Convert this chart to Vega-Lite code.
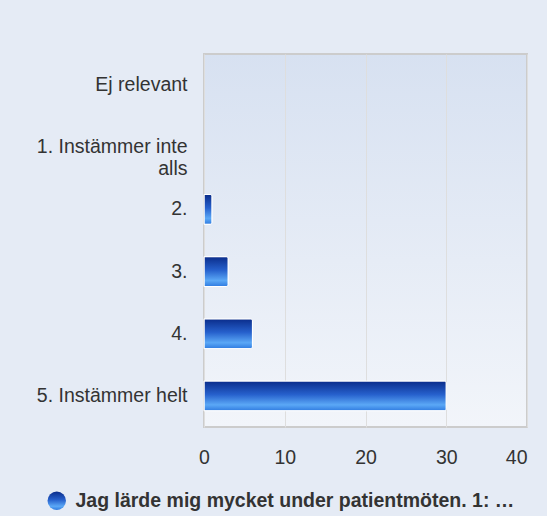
{
  "$schema": "https://vega.github.io/schema/vega-lite/v6.json",
  "width": 323,
  "height": 373,
  "autosize": {"type": "none"},
  "padding": {"left": 204, "top": 54, "right": 20, "bottom": 89},
  "background": "#e5ebf5",
  "config": {
    "font": "Liberation Sans",
    "view": {
      "fill": {"gradient": "linear", "x1": 0, "y1": 0, "x2": 0, "y2": 1, "stops": [{"offset": 0, "color": "#d7e1f1"}, {"offset": 1, "color": "#f2f5fa"}]},
      "stroke": "#cccccc",
      "strokeWidth": 2
    }
  },
  "data": {
    "values": [
      {"kategori": "Ej relevant", "antal": 0, "serie": "Jag lärde mig mycket under patientmöten. 1: …"},
      {"kategori": "1. Instämmer inte alls", "antal": 0, "serie": "Jag lärde mig mycket under patientmöten. 1: …"},
      {"kategori": "2.", "antal": 1, "serie": "Jag lärde mig mycket under patientmöten. 1: …"},
      {"kategori": "3.", "antal": 3, "serie": "Jag lärde mig mycket under patientmöten. 1: …"},
      {"kategori": "4.", "antal": 6, "serie": "Jag lärde mig mycket under patientmöten. 1: …"},
      {"kategori": "5. Instämmer helt", "antal": 30, "serie": "Jag lärde mig mycket under patientmöten. 1: …"}
    ]
  },
  "transform": [{"filter": "datum.antal > 0"}],
  "mark": {
    "type": "bar",
    "stroke": "white",
    "strokeWidth": 1,
    "cornerRadiusEnd": 2,
    "fill": {"gradient": "linear", "x1": 0, "y1": 0, "x2": 0, "y2": 1, "stops": [{"offset": 0, "color": "#0a2c8a"}, {"offset": 0.45, "color": "#2660cc"}, {"offset": 0.8, "color": "#5ba8f6"}, {"offset": 1, "color": "#2f7be0"}]}
  },
  "encoding": {
    "y": {
      "field": "kategori",
      "type": "nominal",
      "sort": null,
      "scale": {
        "domain": ["Ej relevant", "1. Instämmer inte alls", "2.", "3.", "4.", "5. Instämmer helt"],
        "paddingInner": 0.52,
        "paddingOuter": 0.26
      },
      "axis": {
        "title": null,
        "domain": false,
        "ticks": false,
        "labelFontSize": 19.5,
        "labelColor": "#333333",
        "labelPadding": 17,
        "labelLimit": 220,
        "labelLineHeight": 22,
        "labelExpr": "datum.value == '1. Instämmer inte alls' ? ['1. Instämmer inte', 'alls'] : datum.value"
      }
    },
    "x": {
      "field": "antal",
      "type": "quantitative",
      "scale": {"domain": [0, 40], "nice": false},
      "axis": {
        "title": null,
        "values": [0, 10, 20, 30, 40],
        "ticks": false,
        "domain": false,
        "grid": true,
        "gridColor": "#dedede",
        "gridWidth": 1,
        "labelFontSize": 19.5,
        "labelColor": "#333333",
        "labelPadding": 21,
        "labelFlush": false,
        "labelAlign": {"condition": {"test": "datum.value == 40", "value": "right"}, "value": "center"}
      }
    },
    "opacity": {
      "field": "serie",
      "type": "nominal",
      "scale": {"range": [1]},
      "legend": {
        "title": null,
        "orient": "none",
        "legendX": -157,
        "legendY": 437,
        "padding": 0,
        "symbolType": "circle",
        "symbolSize": 340,
        "symbolStrokeWidth": 0,
        "labelFontSize": 19.5,
        "labelFontWeight": "bold",
        "labelColor": "#333333",
        "labelLimit": 600,
        "labelOffset": 9,
        "encode": {
          "symbols": {
            "update": {
              "fill": {"value": {"gradient": "linear", "x1": 0, "y1": 0, "x2": 1, "y2": 0, "stops": [{"offset": 0, "color": "#4a8cf0"}, {"offset": 1, "color": "#0b2a86"}]}},
              "strokeWidth": {"value": 0}
            }
          }
        }
      }
    }
  }
}
